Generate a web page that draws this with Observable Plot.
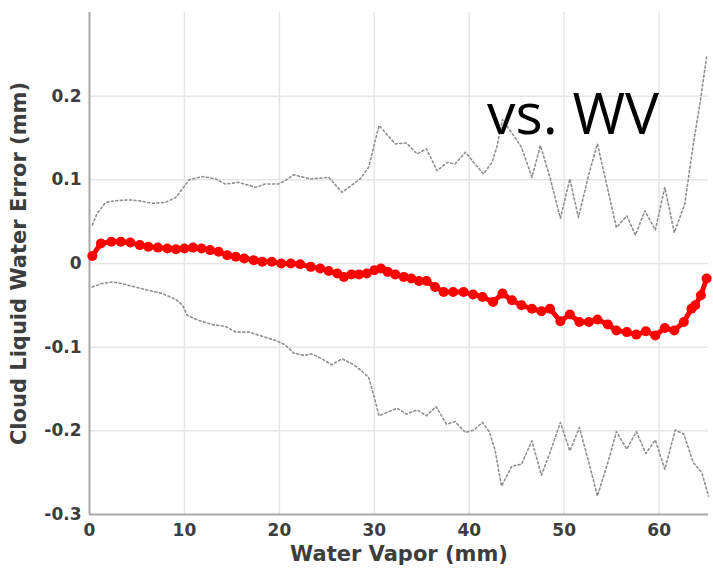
<!DOCTYPE html>
<html>
<head>
<meta charset="utf-8">
<script src="https://cdn.jsdelivr.net/npm/d3@7"></script>
<script src="https://cdn.jsdelivr.net/npm/@observablehq/plot@0.6"></script>
<style>
  html, body { margin: 0; padding: 0; background: #fff; }
  #wrap { position: relative; width: 713px; height: 570px; }
  #note { position: absolute; left: 487px; top: 84px; font-family: "Open Sans", sans-serif; font-size: 57px; line-height: 1; color: #000; white-space: nowrap; }
</style>
</head>
<body>
<div id="wrap"><div id="note">vs. WV</div></div>
<script>
// Mean error (red)
const meanX = [0.3,1.2,2.3,3.3,4.3,5.3,6.2,7.2,8.2,9.1,10.0,10.9,11.8,12.7,13.6,14.5,15.4,16.3,17.3,18.2,19.2,20.2,21.2,22.2,23.3,24.3,25.2,26.1,26.8,27.6,28.4,29.2,30.0,30.7,31.4,32.2,33.1,33.9,34.7,35.5,36.4,37.3,38.3,39.4,40.4,41.4,42.5,43.5,44.5,45.5,46.6,47.6,48.5,49.6,50.6,51.6,52.6,53.5,54.6,55.5,56.6,57.6,58.6,59.6,60.6,61.6,62.6,63.4,63.8,64.4,65.0];
const meanY = [0.009,0.024,0.026,0.026,0.025,0.022,0.020,0.019,0.018,0.017,0.018,0.019,0.018,0.016,0.014,0.010,0.008,0.006,0.004,0.002,0.002,0.000,0.000,-0.001,-0.004,-0.006,-0.009,-0.012,-0.016,-0.013,-0.013,-0.012,-0.008,-0.006,-0.010,-0.013,-0.016,-0.018,-0.021,-0.021,-0.028,-0.034,-0.034,-0.034,-0.037,-0.040,-0.046,-0.036,-0.044,-0.050,-0.054,-0.057,-0.054,-0.069,-0.061,-0.070,-0.070,-0.067,-0.073,-0.080,-0.082,-0.085,-0.081,-0.086,-0.077,-0.080,-0.070,-0.054,-0.050,-0.038,-0.018];

// Upper bound (dotted)
const upperX = [0.3,0.8,1.7,2.7,4.1,5.2,6.6,8.0,9.1,9.9,10.5,11.9,13.3,14.3,15.7,17.5,18.5,19.9,20.6,21.5,23.3,25.2,26.6,28.5,29.4,30.5,32.2,33.4,34.5,35.5,36.6,37.7,38.5,39.6,40.6,41.5,42.4,42.9,43.5,44.3,45.5,46.6,47.5,48.5,49.6,50.6,51.5,52.6,53.5,54.7,55.5,56.6,57.5,58.5,59.6,60.6,61.6,62.7,63.6,64.3,65.0];
const upperY = [0.046,0.060,0.073,0.075,0.076,0.075,0.072,0.073,0.079,0.091,0.100,0.104,0.101,0.095,0.097,0.091,0.095,0.095,0.099,0.106,0.101,0.103,0.085,0.101,0.115,0.165,0.143,0.144,0.131,0.137,0.111,0.121,0.119,0.133,0.119,0.107,0.121,0.139,0.172,0.159,0.139,0.103,0.141,0.103,0.054,0.101,0.055,0.107,0.143,0.083,0.043,0.057,0.034,0.063,0.040,0.091,0.037,0.071,0.143,0.191,0.247];

// Lower bound (dotted)
const lowerX = [0.3,1.3,2.4,3.4,4.8,6.2,7.7,9.1,9.8,10.3,11.5,12.9,14.3,15.4,16.8,18.2,19.6,20.6,21.5,22.6,23.4,24.5,25.5,26.6,27.7,28.5,29.4,29.9,30.5,31.3,32.4,33.4,34.5,35.5,36.5,37.6,38.5,39.6,40.5,41.4,42.1,42.7,43.4,44.5,45.5,46.6,47.6,48.5,49.6,50.6,51.6,52.6,53.5,54.7,55.5,56.6,57.6,58.6,59.6,60.6,61.7,62.6,63.6,64.5,65.2];
const lowerY = [-0.028,-0.024,-0.022,-0.024,-0.028,-0.032,-0.036,-0.043,-0.050,-0.062,-0.068,-0.073,-0.075,-0.082,-0.082,-0.087,-0.092,-0.097,-0.107,-0.110,-0.108,-0.114,-0.121,-0.114,-0.120,-0.127,-0.136,-0.156,-0.182,-0.178,-0.173,-0.180,-0.175,-0.182,-0.171,-0.192,-0.189,-0.202,-0.199,-0.190,-0.201,-0.222,-0.266,-0.242,-0.240,-0.212,-0.253,-0.226,-0.190,-0.224,-0.196,-0.238,-0.278,-0.234,-0.201,-0.222,-0.201,-0.227,-0.211,-0.246,-0.199,-0.204,-0.238,-0.250,-0.278];

const xTicks = [0, 10, 20, 30, 40, 50, 60];
const yTicks = [-0.3, -0.2, -0.1, 0, 0.1, 0.2];
const yGrid = [-0.2, -0.1, 0, 0.1, 0.2];
const xLabel = "Water Vapor (mm)";
const yLabel = "Cloud Liquid Water Error (mm)";

const mean = meanX.map((x, i) => ({x, y: meanY[i]}));
const upper = upperX.map((x, i) => ({x, y: upperY[i]}));
const lower = lowerX.map((x, i) => ({x, y: lowerY[i]}));

const fmt = d => d === 0 ? "0" : d3.format(".1f")(d).replace("−", "-");

const chart = Plot.plot({
  width: 713,
  height: 570,
  marginTop: 12,
  marginBottom: 56,
  marginLeft: 89,
  marginRight: 5,
  style: {fontFamily: "DejaVu Sans, sans-serif", fontSize: "17px", fontWeight: "bold", color: "#3d3d3d", background: "#fff"},
  x: {domain: [0, 65.2]},
  y: {domain: [-0.3, 0.3]},
  marks: [
    Plot.ruleX(xTicks.slice(1), {stroke: "#e6e6e6", strokeWidth: 1.5}),
    Plot.ruleY(yGrid, {stroke: "#e6e6e6", strokeWidth: 1.5}),
    Plot.axisX({ticks: xTicks, tickSize: 0, tickPadding: 9, tickFormat: d => String(d), label: null, fontSize: 17, fontWeight: "bold"}),
    Plot.axisY({ticks: yTicks, tickSize: 0, tickPadding: 8, tickFormat: fmt, label: null, fontSize: 17, fontWeight: "bold"}),
    Plot.axisX({ticks: [], tickSize: 0, label: xLabel, labelAnchor: "center", labelArrow: "none", labelOffset: 46, fontSize: 21, fontWeight: "bold"}),
    Plot.axisY({ticks: [], tickSize: 0, label: yLabel, labelAnchor: "center", labelArrow: "none", labelOffset: 78, fontSize: 21, fontWeight: "bold"}),
    Plot.ruleX([0], {stroke: "#a8a8a8", strokeWidth: 2}),
    Plot.ruleY([-0.3], {stroke: "#a8a8a8", strokeWidth: 2}),
    Plot.line(upper, {x: "x", y: "y", stroke: "#8f8f8f", strokeWidth: 1.6, strokeDasharray: "2,2.6"}),
    Plot.line(lower, {x: "x", y: "y", stroke: "#8f8f8f", strokeWidth: 1.6, strokeDasharray: "2,2.6"}),
    Plot.line(mean, {x: "x", y: "y", stroke: "#ff0000", strokeWidth: 5}),
    Plot.dot(mean, {x: "x", y: "y", r: 5, fill: "#ff0000", stroke: "none"})
  ]
});
document.getElementById("wrap").prepend(chart);
</script>
</body>
</html>
